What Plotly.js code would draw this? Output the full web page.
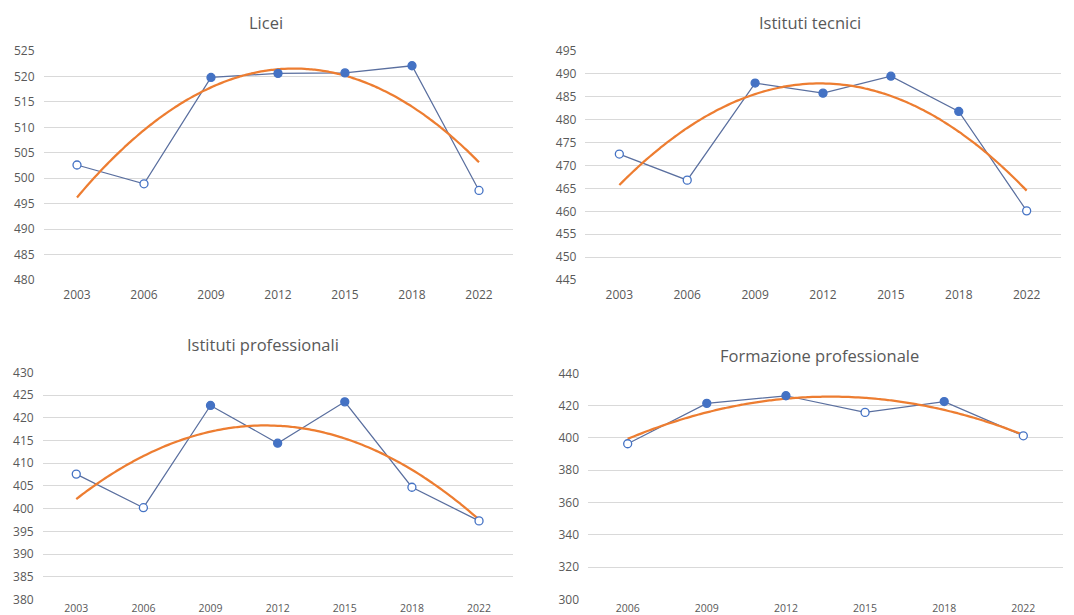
<!DOCTYPE html>
<html>
<head>
<meta charset="utf-8">
<script src="https://cdn.plot.ly/plotly-3.0.1.min.js"></script>
<style>html,body{margin:0;padding:0;background:#fff;}#chart{width:1074px;height:615px;}</style>
</head>
<body>
<div id="chart"></div>
<script>
// ---- data ----
const years = ['2003', '2006', '2009', '2012', '2015', '2018', '2022'];
const formazioneYears = ['2006', '2009', '2012', '2015', '2018', '2022'];

const liceiValues = [502.6, 498.9, 519.8, 520.6, 520.7, 522.1, 497.6];
const liceiSignificant = [false, false, true, true, true, true, false];

const tecniciValues = [472.5, 466.8, 488.0, 485.8, 489.5, 481.8, 460.1];
const tecniciSignificant = [false, false, true, true, true, true, false];

const professionaliValues = [407.6, 400.2, 422.7, 414.4, 423.5, 404.7, 397.3];
const professionaliSignificant = [false, false, true, true, true, false, false];

const formazioneValues = [396.4, 421.4, 426.1, 415.8, 422.5, 401.3];
const formazioneSignificant = [false, true, true, false, true, false];

const panelTitles = ['Licei', 'Istituti tecnici', 'Istituti professionali', 'Formazione professionale'];

// ---- helpers ----
// least-squares polynomial (order 2) trendline, as in the spreadsheet chart
function quadFit(ys) {
  const n = ys.length;
  let s0 = 0, s1 = 0, s2 = 0, s3 = 0, s4 = 0, t0 = 0, t1 = 0, t2 = 0;
  for (let i = 0; i < n; i++) {
    const x = i, y = ys[i];
    s0 += 1; s1 += x; s2 += x * x; s3 += x * x * x; s4 += x * x * x * x;
    t0 += y; t1 += x * y; t2 += x * x * y;
  }
  const M = [[s0, s1, s2, t0], [s1, s2, s3, t1], [s2, s3, s4, t2]];
  for (let c = 0; c < 3; c++) {
    for (let r = c + 1; r < 3; r++) {
      const f = M[r][c] / M[c][c];
      for (let k = c; k < 4; k++) M[r][k] -= f * M[c][k];
    }
  }
  const coef = [0, 0, 0];
  for (let r = 2; r >= 0; r--) {
    let s = M[r][3];
    for (let k = r + 1; k < 3; k++) s -= M[r][k] * coef[k];
    coef[r] = s / M[r][r];
  }
  return coef;
}

const BLUE = '#4472C4';
const LINE = '#5a6f9f';
const ORANGE = '#ED7D31';
const GRID = '#d9d9d9';
const TXT = '#595959';
const FONT = 'Open Sans, sans-serif';

const panels = [
  {cats: years, vals: liceiValues, sig: liceiSignificant, range: [480, 525], dtick: 5, xd: [43.5, 512.5], yd: [51, 280], xfs: 12, xso: 6},
  {cats: years, vals: tecniciValues, sig: tecniciSignificant, range: [445, 495], dtick: 5, xd: [585.4, 1060.6], yd: [51, 280], xfs: 12, xso: 6},
  {cats: years, vals: professionaliValues, sig: professionaliSignificant, range: [380, 430], dtick: 5, xd: [42.7, 512.6], yd: [372.3, 599.5], xfs: 10.5, xso: 1},
  {cats: formazioneYears, vals: formazioneValues, sig: formazioneSignificant, range: [300, 440], dtick: 20, xd: [588.1, 1062.9], yd: [373.3, 599.5], xfs: 10.5, xso: 1}
];
const titlePos = [[265.7, 22.7], [810, 22.7], [263.3, 344], [819.3, 355]];

const W = 1074, H = 615;
const traces = [];
const layout = {
  width: W, height: H,
  margin: {l: 0, r: 0, t: 0, b: 0},
  paper_bgcolor: '#fff', plot_bgcolor: '#fff',
  showlegend: false,
  font: {family: FONT, color: TXT},
  annotations: []
};

panels.forEach((p, k) => {
  const ax = k === 0 ? '' : String(k + 1);
  const xs = p.cats.map((_, i) => i);
  // series line
  traces.push({
    x: xs, y: p.vals, xaxis: 'x' + ax, yaxis: 'y' + ax,
    type: 'scatter', mode: 'lines',
    line: {color: LINE, width: 1.25},
    hoverinfo: 'skip', cliponaxis: false
  });
  // trendline
  const c = quadFit(p.vals);
  const tx = [], ty = [];
  const steps = 120;
  for (let s = 0; s <= steps; s++) {
    const x = (p.cats.length - 1) * s / steps;
    tx.push(x); ty.push(c[0] + c[1] * x + c[2] * x * x);
  }
  traces.push({
    x: tx, y: ty, xaxis: 'x' + ax, yaxis: 'y' + ax,
    type: 'scatter', mode: 'lines',
    line: {color: ORANGE, width: 2.25, shape: 'spline'},
    hoverinfo: 'skip', cliponaxis: false
  });
  // markers
  traces.push({
    x: xs, y: p.vals, xaxis: 'x' + ax, yaxis: 'y' + ax,
    type: 'scatter', mode: 'markers',
    marker: {
      size: 8,
      color: p.sig.map(s => s ? BLUE : '#ffffff'),
      line: {color: BLUE, width: 1.3}
    },
    cliponaxis: false
  });

  layout['xaxis' + ax] = {
    domain: [p.xd[0] / W, p.xd[1] / W],
    anchor: 'y' + ax,
    range: [-0.5, p.cats.length - 0.5],
    tickmode: 'array', tickvals: xs, ticktext: p.cats,
    showgrid: false, zeroline: false, showline: false,
    ticks: '', ticklabelstandoff: p.xso,
    tickfont: {family: FONT, size: p.xfs, color: TXT},
    fixedrange: true
  };
  layout['yaxis' + ax] = {
    domain: [1 - p.yd[1] / H, 1 - p.yd[0] / H],
    anchor: 'x' + ax,
    range: p.range,
    dtick: p.dtick, tick0: 0,
    showgrid: true, gridcolor: GRID, gridwidth: 1,
    zeroline: false, showline: false,
    ticks: '', ticklabelstandoff: 8,
    tickfont: {family: FONT, size: 12, color: TXT},
    fixedrange: true
  };
  layout.annotations.push({
    text: panelTitles[k],
    xref: 'paper', yref: 'paper',
    x: titlePos[k][0] / W, y: 1 - titlePos[k][1] / H,
    xanchor: 'center', yanchor: 'middle',
    showarrow: false,
    font: {family: FONT, size: 16.5, color: TXT}
  });
});

Plotly.newPlot('chart', traces, layout, {displayModeBar: false, staticPlot: true});
</script>
</body>
</html>
